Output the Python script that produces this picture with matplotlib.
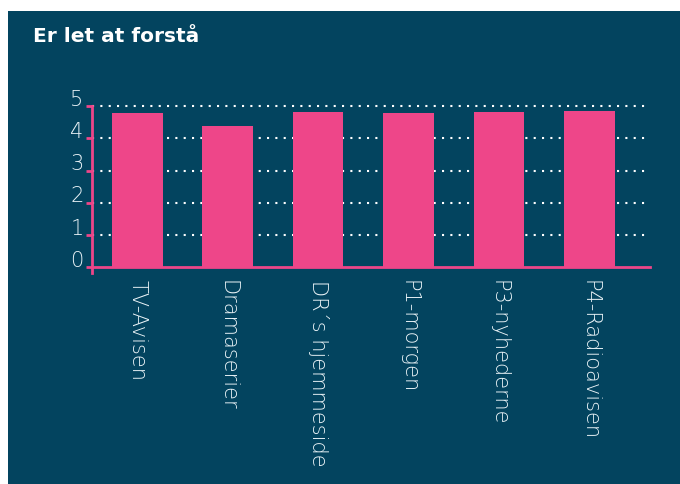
import matplotlib
matplotlib.use("Agg")
import matplotlib.pyplot as plt
import matplotlib.transforms as mtransforms
from matplotlib.patches import Rectangle
import numpy as np

categories = ["TV-Avisen", "Dramaserier", "DR´s hjemmeside", "P1-morgen", "P3-nyhederne", "P4-Radioavisen"]
values = [4.78, 4.37, 4.81, 4.78, 4.81, 4.84]
yticks = [0, 1, 2, 3, 4, 5]

bg = "#03445f"
pink = "#ee4689"
txt = "#eaf3f7"

fig = plt.figure(figsize=(6.8, 4.84), dpi=100, facecolor="white")
fig.patches.append(Rectangle((8 / 680, 0), 1, (484 - 11) / 484, transform=fig.transFigure,
                             facecolor=bg, edgecolor="none", zorder=-10))

fig.text(33 / 680, 1 - 37 / 484, "Er let at forstå", color="white", fontsize=14.5,
         fontweight="bold", va="center", ha="left")

ax = fig.add_axes([92 / 680, 0.436, (650 - 92) / 680, 0.782 - 0.436])
ax.set_facecolor("none")

x = np.arange(len(categories))
for yv in yticks[1:]:
    ax.axhline(yv, color="white", linestyle=(0, (1, 3)), linewidth=1.5, zorder=1, clip_on=False)
ax.bar(x, values, width=0.56, color=pink, zorder=2)

ax.set_xlim(-0.5, 5.67)
ax.set_ylim(-0.18, 5.02)

for s in ["top", "right"]:
    ax.spines[s].set_visible(False)
ax.spines["bottom"].set_position(("data", 0))
ax.spines["bottom"].set_color(pink)
ax.spines["left"].set_color(pink)
ax.spines["bottom"].set_linewidth(2)
ax.spines["left"].set_linewidth(2)
ax.tick_params(axis="y", colors=pink, length=4, width=2, pad=2, labelcolor=txt)
ax.tick_params(axis="x", length=0, pad=9, labelcolor=txt)

ax.set_yticks(yticks)
ax.set_yticklabels([str(v) for v in yticks], color=txt, fontsize=15, fontweight="light")
ax.set_xticks(x)
ax.set_xticklabels(categories, rotation=-90, color=txt, fontsize=15, fontweight="light",
                   va="top", ha="center")

# y labels sit a bit above their ticks in the original
shift = mtransforms.ScaledTranslation(0, 6 / 72, fig.dpi_scale_trans)
for lab in ax.get_yticklabels():
    lab.set_transform(lab.get_transform() + shift)

fig.savefig("out.png", dpi=100, facecolor="white")
